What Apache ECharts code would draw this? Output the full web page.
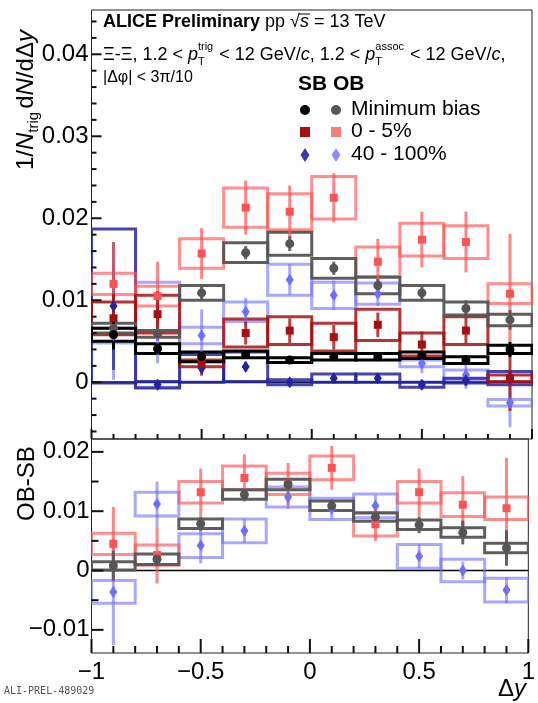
<!DOCTYPE html>
<html>
<head>
<meta charset="utf-8">
<script src="https://cdn.jsdelivr.net/npm/echarts@6/dist/echarts.min.js"></script>
<style>
html, body { margin: 0; padding: 0; background: #fff; }
#chart { width: 538px; height: 703px; }
</style>
</head>
<body>
<div id="chart"></div>
<script>
// Δy bins
const binCenters = [-0.9, -0.7, -0.5, -0.3, -0.1, 0.1, 0.3, 0.5, 0.7, 0.9];
const binWidth = 0.2;

// Upper panel: 1/N_trig dN/dΔy, SB (same baryon) and OB (opposite baryon)
const sbMinBias      = [0.0058, 0.0041, 0.0031, 0.0034, 0.0027, 0.0031, 0.0031, 0.0033, 0.0027, 0.0040];
const sbMinBiasStat  = [0.0018, 0.0006, 0.0006, 0.0005, 0.0004, 0.0004, 0.0004, 0.0005, 0.0006, 0.0009];
const sbMinBiasSys   = [0.0008, 0.0006, 0.0006, 0.0004, 0.0003, 0.0004, 0.0004, 0.0004, 0.0004, 0.0005];

const obMinBias      = [0.0066, 0.0059, 0.0109, 0.0158, 0.0169, 0.0139, 0.0118, 0.0109, 0.0090, 0.0076];
const obMinBiasStat  = [0.0010, 0.0008, 0.0009, 0.0008, 0.0009, 0.0008, 0.0008, 0.0009, 0.0010, 0.0012];
const obMinBiasSys   = [0.0006, 0.0004, 0.0009, 0.0012, 0.0014, 0.0012, 0.0010, 0.0009, 0.0008, 0.0007];

const sbCent0to5     = [0.0078, 0.0083, 0.0023, 0.0060, 0.0063, 0.0055, 0.0070, 0.0046, 0.0063, 0.0005];
const sbCent0to5Stat = [0.0030, 0.0028, 0.0015, 0.0014, 0.0015, 0.0015, 0.0015, 0.0016, 0.0016, 0.0040];
const sbCent0to5Sys  = [0.0020, 0.0023, 0.0004, 0.0017, 0.0017, 0.0017, 0.0019, 0.0014, 0.0017, 0.0004];

const obCent0to5     = [0.0120, 0.0105, 0.0157, 0.0213, 0.0208, 0.0225, 0.0147, 0.0174, 0.0171, 0.0108];
const obCent0to5Stat = [0.0051, 0.0042, 0.0031, 0.0033, 0.0032, 0.0030, 0.0028, 0.0034, 0.0037, 0.0073];
const obCent0to5Sys  = [0.0013, 0.0012, 0.0018, 0.0024, 0.0022, 0.0026, 0.0018, 0.0020, 0.0020, 0.0012];

const sbCent40to100     = [0.0093, -0.0003, 0.0017, 0.0019, 0.0000, 0.0005, 0.0005, -0.0003, 0.0002, 0.0005];
const sbCent40to100Stat = [0.0078, 0.0006, 0.0006, 0.0006, 0.0005, 0.0005, 0.0005, 0.0006, 0.0006, 0.0008];
const sbCent40to100Sys  = [0.0094, 0.0004, 0.0017, 0.0018, 0.0003, 0.0005, 0.0005, 0.0003, 0.0003, 0.0008];

const obCent40to100     = [0.0057, 0.0058, 0.0057, 0.0086, 0.0125, 0.0106, 0.0108, 0.0023, 0.0009, -0.0025];
const obCent40to100Stat = [0.0054, 0.0035, 0.0032, 0.0017, 0.0019, 0.0018, 0.0015, 0.0012, 0.0017, 0.0030];
const obCent40to100Sys  = [0.0009, 0.0064, 0.0010, 0.0012, 0.0019, 0.0016, 0.0013, 0.0004, 0.0006, 0.0004];

// Lower panel: OB - SB
const diffMinBias      = [0.0008, 0.0019, 0.0079, 0.0128, 0.0145, 0.0109, 0.0090, 0.0077, 0.0064, 0.0038];
const diffMinBiasStat  = [0.0025, 0.0012, 0.0012, 0.0010, 0.0010, 0.0010, 0.0010, 0.0014, 0.0020, 0.0030];
const diffMinBiasSys   = [0.0007, 0.0009, 0.0008, 0.0008, 0.0009, 0.0008, 0.0007, 0.0008, 0.0008, 0.0008];

const diffCent0to5     = [0.0045, 0.0026, 0.0132, 0.0156, 0.0146, 0.0173, 0.0078, 0.0132, 0.0111, 0.0105];
const diffCent0to5Stat = [0.0062, 0.0048, 0.0040, 0.0040, 0.0035, 0.0037, 0.0028, 0.0040, 0.0048, 0.0085];
const diffCent0to5Sys  = [0.0018, 0.0017, 0.0018, 0.0020, 0.0018, 0.0020, 0.0020, 0.0018, 0.0020, 0.0019];

const diffCent40to100     = [-0.0036, 0.0112, 0.0042, 0.0067, 0.0124, 0.0104, 0.0109, 0.0024, 0.0000, -0.0033];
const diffCent40to100Stat = [0.0090, 0.0038, 0.0030, 0.0020, 0.0020, 0.0017, 0.0018, 0.0020, 0.0015, 0.0022];
const diffCent40to100Sys  = [0.0019, 0.0020, 0.0020, 0.0020, 0.0017, 0.0018, 0.0020, 0.0020, 0.0019, 0.0020];

// Axis ticks and labels
const xMajorTicks = [-1, -0.5, 0, 0.5, 1];
const xTickLabels = ['\u22121', '\u22120.5', '0', '0.5', '1'];
const xMinorTicks = [-0.9, -0.8, -0.7, -0.6, -0.4, -0.3, -0.2, -0.1, 0.1, 0.2, 0.3, 0.4, 0.6, 0.7, 0.8, 0.9];
const yTopMajorTicks = [0, 0.01, 0.02, 0.03, 0.04];
const yTopTickLabels = ['0', '0.01', '0.02', '0.03', '0.04'];
const yTopMinorTicks = [-0.006, -0.004, -0.002, 0.002, 0.004, 0.006, 0.008, 0.012, 0.014, 0.016, 0.018,
  0.022, 0.024, 0.026, 0.028, 0.032, 0.034, 0.036, 0.038, 0.042, 0.044];
const yBotMajorTicks = [-0.01, 0, 0.01, 0.02];
const yBotTickLabels = ['\u22120.01', '0', '0.01', '0.02'];
const yBotMinorTicks = [-0.005, 0.005, 0.015];

const FONT = '"Liberation Sans", Arial, sans-serif';
const COL = {
  black: '#000000', gray: '#555555', darkRed: '#a81010', lightRed: '#ff5252',
  darkBlue: '#24249c', lightBlue: '#6e6eff'
};
const TOP_MIN = -0.00692, TOP_MAX = 0.0454, BOT_MIN = -0.0139, BOT_MAX = 0.02217;

function labelFor(values, labels) {
  return function (v) {
    for (let i = 0; i < values.length; i++) if (Math.abs(values[i] - v) < 1e-9) return labels[i];
    return '';
  };
}

function valueAxis(pos, grid, min, max, ticks, labels, labelMargin) {
  const ax = {
    gridIndex: grid, type: 'value', position: pos, min: min, max: max,
    axisLine: { show: false, onZero: false }, splitLine: { show: false },
    axisTick: { show: false },
    axisLabel: { show: false }
  };
  if (labels) {
    ax.axisLabel = {
      show: true, customValues: ticks, formatter: labelFor(ticks, labels),
      fontFamily: FONT, fontSize: 24, color: '#000', margin: labelMargin
    };
  }
  return ax;
}

const xAxes = [
  valueAxis('bottom', 0, -1, 1, xMajorTicks, null),
  valueAxis('bottom', 1, -1, 1, xMajorTicks, xTickLabels, 7)
];
const yAxes = [
  valueAxis('left', 0, TOP_MIN, TOP_MAX, yTopMajorTicks, yTopTickLabels, 3),
  valueAxis('left', 1, BOT_MIN, BOT_MAX, yBotMajorTicks, yBotTickLabels, 2)
];

function rows(vals, errs) {
  return binCenters.map((x, i) => [x, vals[i], errs[i]]);
}

function boxSeries(panel, vals, sys, color, opacity) {
  return {
    type: 'custom', xAxisIndex: panel, yAxisIndex: panel, z: 2, clip: true,
    data: rows(vals, sys),
    renderItem: function (params, api) {
      const x = api.value(0), y = api.value(1), s = api.value(2);
      const p1 = api.coord([x - binWidth / 2, y + s]);
      const p2 = api.coord([x + binWidth / 2, y - s]);
      return {
        type: 'rect',
        shape: { x: p1[0], y: p1[1], width: p2[0] - p1[0], height: p2[1] - p1[1] },
        style: { fill: 'none', stroke: color, lineWidth: 3, opacity: opacity }
      };
    }
  };
}

function barSeries(panel, vals, stat, color, opacity) {
  return {
    type: 'custom', xAxisIndex: panel, yAxisIndex: panel, z: 3, clip: true,
    data: rows(vals, stat),
    renderItem: function (params, api) {
      const x = api.value(0), y = api.value(1), e = api.value(2);
      const a = api.coord([x, y + e]);
      const b = api.coord([x, y - e]);
      return {
        type: 'line',
        shape: { x1: a[0], y1: a[1], x2: b[0], y2: b[1] },
        style: { stroke: color, lineWidth: 3, opacity: opacity }
      };
    }
  };
}

function markerSeries(panel, vals, color, symbol, size) {
  return {
    type: 'scatter', xAxisIndex: panel, yAxisIndex: panel, z: 4,
    symbol: symbol, symbolSize: size, silent: true,
    itemStyle: { color: color, opacity: 1 },
    data: binCenters.map((x, i) => [x, vals[i]])
  };
}

const topSets = [
  { v: obCent40to100, st: obCent40to100Stat, sy: obCent40to100Sys, c: COL.lightBlue, sym: 'diamond', sz: [8, 12], bo: 0.6, eo: 0.6 },
  { v: sbCent40to100, st: sbCent40to100Stat, sy: sbCent40to100Sys, c: COL.darkBlue, sym: 'diamond', sz: [8, 12], bo: 0.85, eo: 0.75 },
  { v: obCent0to5, st: obCent0to5Stat, sy: obCent0to5Sys, c: COL.lightRed, sym: 'rect', sz: 8, bo: 0.65, eo: 0.7 },
  { v: sbCent0to5, st: sbCent0to5Stat, sy: sbCent0to5Sys, c: COL.darkRed, sym: 'rect', sz: 8, bo: 0.85, eo: 0.8 },
  { v: obMinBias, st: obMinBiasStat, sy: obMinBiasSys, c: COL.gray, sym: 'circle', sz: 9, bo: 0.95, eo: 0.9 },
  { v: sbMinBias, st: sbMinBiasStat, sy: sbMinBiasSys, c: COL.black, sym: 'circle', sz: 9, bo: 1, eo: 1 }
];
const botSets = [
  { v: diffCent40to100, st: diffCent40to100Stat, sy: diffCent40to100Sys, c: COL.lightBlue, sym: 'diamond', sz: [8, 12], bo: 0.6, eo: 0.6 },
  { v: diffCent0to5, st: diffCent0to5Stat, sy: diffCent0to5Sys, c: COL.lightRed, sym: 'rect', sz: 8, bo: 0.65, eo: 0.7 },
  { v: diffMinBias, st: diffMinBiasStat, sy: diffMinBiasSys, c: COL.gray, sym: 'circle', sz: 9, bo: 0.95, eo: 0.9 }
];

const series = [];
// reference lines at zero
series.push({
  type: 'line', xAxisIndex: 0, yAxisIndex: 0, z: 1, symbol: 'none', silent: true,
  lineStyle: { color: '#15155c', width: 2 }, data: [[-1, 0], [1, 0]]
});
series.push({
  type: 'line', xAxisIndex: 1, yAxisIndex: 1, z: 1, symbol: 'none', silent: true,
  lineStyle: { color: '#000', width: 1.5 }, data: [[-1, 0], [1, 0]]
});
[[0, topSets], [1, botSets]].forEach(([panel, sets]) => {
  sets.forEach(s => series.push(boxSeries(panel, s.v, s.sy, s.c, s.bo)));
  sets.forEach(s => series.push(barSeries(panel, s.v, s.st, s.c, s.eo)));
  sets.forEach(s => series.push(markerSeries(panel, s.v, s.c, s.sym, s.sz)));
});

// ---- text helpers (inline runs with italics, sub/superscripts) ----
const mctx = document.createElement('canvas').getContext('2d');
function fontOf(p) {
  return (p.italic ? 'italic ' : '') + (p.bold ? 'bold ' : '') + p.size + 'px ' + FONT;
}
function widthOf(t, p) { mctx.font = fontOf(p); return mctx.measureText(t).width; }
function textEl(t, x, y, p, color) {
  return {
    type: 'text', x: x, y: y, silent: true,
    style: { text: t, font: fontOf(p), fill: color || '#000', align: 'left', verticalAlign: 'middle',
             textAlign: 'left', textVerticalAlign: 'middle' }
  };
}
function run(parts, x0, y0, color) {
  const els = [];
  let x = x0;
  parts.forEach(p => {
    if (p.sup !== undefined || p.sub !== undefined) {
      const sp = { size: p.size };
      let w = 0;
      if (p.sup) { els.push(textEl(p.sup, x, y0 - p.up, sp, color)); w = Math.max(w, widthOf(p.sup, sp)); }
      if (p.sub) { els.push(textEl(p.sub, x, y0 + p.down, sp, color)); w = Math.max(w, widthOf(p.sub, sp)); }
      x += w + (p.after || 0);
    } else {
      els.push(textEl(p.t, x, y0 + (p.dy || 0), p, color));
      const w = widthOf(p.t, p);
      if (p.overline) {
        els.push({ type: 'line', silent: true,
          shape: { x1: x - 1, y1: y0 - p.overline, x2: x + w + 1, y2: y0 - p.overline },
          style: { stroke: color || '#000', lineWidth: 1 } });
      }
      x += w;
    }
  });
  return els;
}

const R = 18, S = 11;
const line1 = run([
  { t: 'ALICE Preliminary', size: R, bold: true },
  { t: ' pp ', size: R },
  { t: '\u221A', size: R },
  { t: 's', size: R, italic: true, overline: 8 },
  { t: ' = 13 TeV', size: R }
], 103, 22);
const line2 = run([
  { t: '\u039E-\u039E, 1.2 < ', size: R },
  { t: 'p', size: R, italic: true },
  { sup: 'trig', sub: 'T', size: S, up: 8, down: 7, after: 1 },
  { t: ' < 12 GeV/', size: R },
  { t: 'c', size: R, italic: true },
  { t: ', 1.2 < ', size: R },
  { t: 'p', size: R, italic: true },
  { sup: 'assoc', sub: 'T', size: S, up: 8, down: 7, after: 1 },
  { t: ' < 12 GeV/', size: R },
  { t: 'c', size: R, italic: true },
  { t: ',', size: R }
], 103, 55);
const line3 = run([
  { t: '|\u0394\u03C6| < 3\u03C0/10', size: 16 }
], 103, 78);

const yTitleTop = run([
  { t: '1/', size: 24 },
  { t: 'N', size: 24, italic: true },
  { sub: 'trig', size: 15, down: 8, after: 3 },
  { t: 'd', size: 24 },
  { t: 'N', size: 24, italic: true },
  { t: '/d\u0394', size: 24 },
  { t: 'y', size: 24, italic: true }
], 0, 0);
const yTitleBot = run([{ t: 'OB-SB', size: 24 }], 0, 0);
const xTitle = run([
  { t: '\u0394', size: 24 },
  { t: 'y', size: 24, italic: true }
], 498, 689);

// legend block
const LX1 = 305, LX2 = 336, LT = 351;
const legendRows = [
  { y: 110, label: 'Minimum bias', c1: COL.black, c2: COL.gray, shape: 'circle' },
  { y: 132, label: '0 - 5%', c1: COL.darkRed, c2: '#ff7a7a', shape: 'rect' },
  { y: 155, label: '40 - 100%', c1: '#3a3ab0', c2: '#8e8eff', shape: 'diamond' }
];
function legendMark(shape, x, y, color) {
  if (shape === 'circle') return { type: 'circle', silent: true, shape: { cx: x, cy: y, r: 5 }, style: { fill: color } };
  if (shape === 'rect') return { type: 'rect', silent: true, shape: { x: x - 5, y: y - 5, width: 10, height: 10 }, style: { fill: color } };
  return { type: 'polygon', silent: true, shape: { points: [[x, y - 7], [x + 4.5, y], [x, y + 7], [x - 4.5, y]] }, style: { fill: color } };
}
const legendEls = [textEl('SB OB', 298, 84, { size: 21, bold: true })];
legendRows.forEach(r => {
  legendEls.push(legendMark(r.shape, LX1, r.y, r.c1));
  legendEls.push(legendMark(r.shape, LX2, r.y, r.c2));
  legendEls.push(textEl(r.label, LT, r.y - 1, { size: 21 }));
});

const graphics = [].concat(line1, line2, line3, xTitle, legendEls);
graphics.push({ type: 'group', x: 26, y: 170, rotation: Math.PI / 2, children: yTitleTop });
graphics.push({ type: 'group', x: 27, y: 521, rotation: Math.PI / 2, children: yTitleBot });
graphics.push({
  type: 'text', x: 4, y: 691, silent: true,
  style: { text: 'ALI-PREL-489029', font: '10px "DejaVu Sans Mono", monospace', fill: '#555',
           align: 'left', verticalAlign: 'middle', textAlign: 'left', textVerticalAlign: 'middle' }
});

const chart = echarts.init(document.getElementById('chart'));
chart.setOption({
  animation: false,
  backgroundColor: '#fff',
  grid: [
    { left: 91.5, right: 6, top: 10, height: 429, show: true, borderColor: '#222', borderWidth: 1, backgroundColor: 'transparent' },
    { left: 91.5, right: 6, top: 439, height: 214, show: true, borderColor: '#222', borderWidth: 1, backgroundColor: 'transparent' }
  ],
  xAxis: xAxes,
  yAxis: yAxes,
  series: series,
  graphic: { elements: graphics }
});

// inward tick marks, positioned with the axis scales of each panel
const tickEls = [];
function addTicks(panel, dir, values, len) {
  const yMin = panel === 0 ? TOP_MIN : BOT_MIN;
  const finder = { xAxisIndex: panel, yAxisIndex: panel };
  values.forEach(v => {
    const p = chart.convertToPixel(finder, dir === 'x' ? [v, yMin] : [-1, v]);
    if (!p || isNaN(p[0]) || isNaN(p[1])) return;
    const shape = dir === 'x'
      ? { x1: p[0], y1: p[1], x2: p[0], y2: p[1] - len }
      : { x1: p[0], y1: p[1], x2: p[0] + len, y2: p[1] };
    tickEls.push({ type: 'line', silent: true, z: 100, shape: shape, style: { stroke: '#111', lineWidth: 2 } });
  });
}
addTicks(0, 'x', xMajorTicks, 10);
addTicks(0, 'x', xMinorTicks, 5);
addTicks(0, 'y', yTopMajorTicks, 10);
addTicks(0, 'y', yTopMinorTicks, 5);
addTicks(1, 'x', xMajorTicks, 14);
addTicks(1, 'x', xMinorTicks, 7);
addTicks(1, 'y', yBotMajorTicks, 12);
addTicks(1, 'y', yBotMinorTicks, 7);
chart.setOption({ graphic: { elements: graphics.concat(tickEls) } });
</script>
</body>
</html>
